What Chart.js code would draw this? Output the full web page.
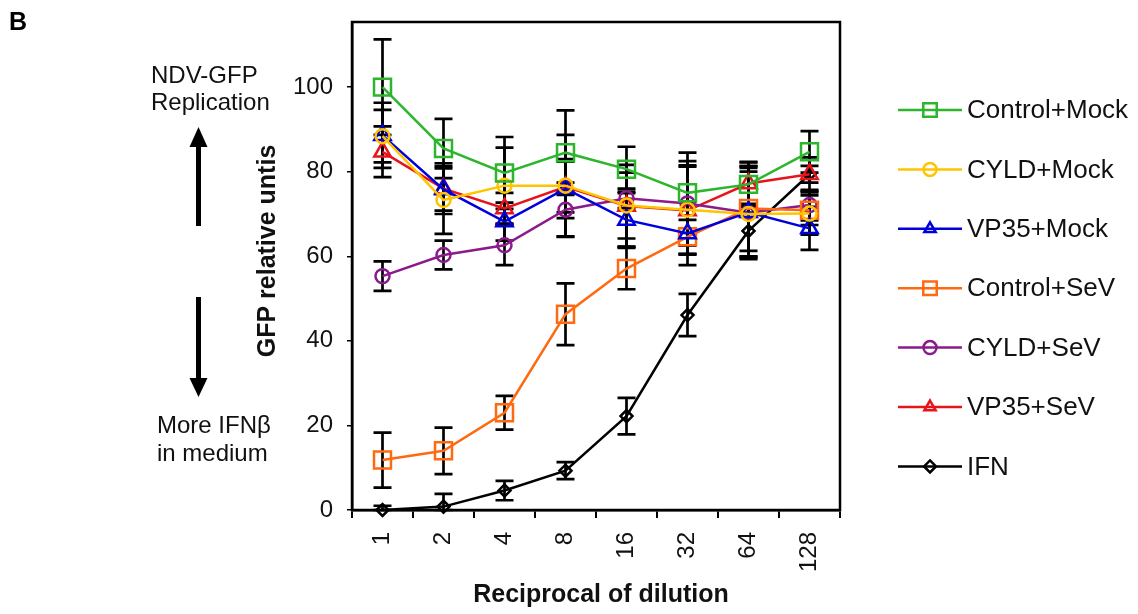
<!DOCTYPE html>
<html>
<head>
<meta charset="utf-8">
<script src="https://cdn.jsdelivr.net/npm/chart.js@4/dist/chart.umd.min.js"></script>
<style>
html,body{margin:0;padding:0;background:#fff;}
#wrap{position:relative;width:1138px;height:614px;}
canvas{display:block;}
</style>
</head>
<body>
<div id="wrap"><canvas id="c" width="1138" height="614"></canvas></div>
<script>
// ---- data ----
const categories = ['1', '2', '4', '8', '16', '32', '64', '128'];
const seriesNames = ['Control+Mock', 'CYLD+Mock', 'VP35+Mock', 'Control+SeV', 'CYLD+SeV', 'VP35+SeV', 'IFN'];
const controlMock    = [100, 85.5, 79.7, 84.5, 80.6, 75.0, 77.0, 84.7];
const controlMockErr = [11.3, 7.0, 8.5, 10.0, 5.3, 9.5, 5.3, 4.9];
const cyldMock       = [88.4, 73.3, 76.7, 76.7, 72.0, 71.0, 70.0, 70.1];
const cyldMockErr    = [6.2, 8.0, 9.0, 12.0, 7.8, 10.5, 10.0, 5.0];
const vp35Mock       = [88.6, 75.8, 68.2, 76.0, 68.6, 65.4, 70.4, 66.6];
const vp35MockErr    = [7.7, 5.0, 4.5, 7.0, 6.3, 7.5, 10.5, 5.1];
const controlSev     = [11.8, 14.0, 23.0, 46.3, 57.1, 64.6, 71.3, 70.9];
const controlSevErr  = [6.5, 5.5, 4.0, 7.3, 4.9, 4.0, 10.0, 3.5];
const cyldSev        = [55.3, 60.3, 62.6, 71.0, 73.7, 72.5, 70.3, 72.1];
const cyldSevErr     = [3.5, 3.4, 4.7, 6.4, 2.3, 10.0, 11.0, 3.6];
const vp35Sev        = [84.7, 76.0, 71.3, 76.4, 71.9, 70.8, 77.2, 79.4];
const vp35SevErr     = [6.0, 6.0, 3.7, 6.0, 9.7, 10.4, 5.0, 4.0];
const ifn            = [0.0, 0.8, 4.6, 9.3, 22.2, 46.1, 66.0, 79.4];
const ifnErr         = [1.0, 3.0, 2.3, 2.0, 4.3, 5.0, 6.4, 2.0];
const yTicks = [0, 20, 40, 60, 80, 100];
const xTitle = 'Reciprocal of dilution';
const yTitle = 'GFP relative untis';

// ---- styles ----
const FONT = "'Liberation Sans', Arial, sans-serif";
const styles = [
  {color: '#2db52d', shape: 'rect', r: 12},
  {color: '#ffc400', shape: 'circle', r: 7},
  {color: '#0000dc', shape: 'triangle', r: 9.5},
  {color: '#ff6a10', shape: 'rect', r: 12},
  {color: '#8b1a8b', shape: 'circle', r: 7},
  {color: '#e8141b', shape: 'triangle', r: 9.5},
  {color: '#000000', shape: 'rectRot', r: 6}
];
const values = [controlMock, cyldMock, vp35Mock, controlSev, cyldSev, vp35Sev, ifn];
const errors = [controlMockErr, cyldMockErr, vp35MockErr, controlSevErr, cyldSevErr, vp35SevErr, ifnErr];

const datasets = seriesNames.map((name, i) => ({
  label: name,
  data: values[i],
  errs: errors[i],
  borderColor: styles[i].color,
  backgroundColor: 'rgba(0,0,0,0)',
  borderWidth: 2.5,
  pointStyle: styles[i].shape,
  pointRadius: styles[i].r,
  pointHoverRadius: styles[i].r,
  pointBorderWidth: 2.5,
  pointBackgroundColor: 'rgba(0,0,0,0)',
  pointBorderColor: styles[i].color,
  tension: 0,
  clip: false
}));

function drawMarker(ctx, shape, x, y, r, color) {
  ctx.save();
  ctx.strokeStyle = color;
  ctx.lineWidth = 2.5;
  ctx.beginPath();
  if (shape === 'rect') {
    const s = Math.SQRT1_2 * r;
    ctx.rect(x - s, y - s, 2 * s, 2 * s);
  } else if (shape === 'circle') {
    ctx.arc(x, y, r, 0, Math.PI * 2);
  } else if (shape === 'triangle') {
    const half = r * Math.sqrt(3) / 2;
    ctx.moveTo(x, y - r);
    ctx.lineTo(x + half, y + r / 2);
    ctx.lineTo(x - half, y + r / 2);
    ctx.closePath();
  } else if (shape === 'rectRot') {
    ctx.moveTo(x, y - r); ctx.lineTo(x + r, y); ctx.lineTo(x, y + r); ctx.lineTo(x - r, y); ctx.closePath();
  }
  ctx.stroke();
  ctx.restore();
}

const errorBars = {
  id: 'errorBars',
  beforeDatasetsDraw(chart) {
    const ctx = chart.ctx, xs = chart.scales.x, ys = chart.scales.y;
    ctx.save();
    ctx.strokeStyle = '#000';
    ctx.lineWidth = 2.7;
    chart.data.datasets.forEach(ds => {
      ds.data.forEach((v, i) => {
        const e = ds.errs[i];
        const x = xs.getPixelForValue(i);
        const yt = ys.getPixelForValue(v + e);
        const yb = Math.min(ys.getPixelForValue(Math.max(v - e, 0)), chart.chartArea.bottom);
        ctx.beginPath();
        ctx.moveTo(x, yt); ctx.lineTo(x, yb);
        ctx.moveTo(x - 9, yt); ctx.lineTo(x + 9, yt);
        ctx.moveTo(x - 9, yb); ctx.lineTo(x + 9, yb);
        ctx.stroke();
      });
    });
    ctx.restore();
  }
};

const frame = {
  id: 'frame',
  afterDraw(chart) {
    const ctx = chart.ctx, a = chart.chartArea;
    ctx.save();
    ctx.strokeStyle = '#000';
    ctx.lineWidth = 2.5;
    ctx.strokeRect(a.left, a.top, a.right - a.left, a.bottom - a.top);
    // axis titles
    ctx.fillStyle = '#111';
    ctx.font = 'bold 25px ' + FONT;
    ctx.textAlign = 'center';
    ctx.textBaseline = 'middle';
    ctx.fillText(xTitle, (a.left + a.right) / 2 + 5, 595);
    ctx.translate(268, 251);
    ctx.rotate(-Math.PI / 2);
    ctx.fillText(yTitle, 0, 0);
    ctx.restore();
  }
};

const legendPlugin = {
  id: 'customLegend',
  afterDraw(chart) {
    const ctx = chart.ctx;
    ctx.save();
    chart.data.datasets.forEach((ds, i) => {
      const y = 110 + i * 59.4;
      ctx.strokeStyle = ds.borderColor;
      ctx.lineWidth = 2.5;
      ctx.beginPath(); ctx.moveTo(898, y); ctx.lineTo(962, y); ctx.stroke();
      drawMarker(ctx, ds.pointStyle, 930, y, ds.pointStyle === 'rectRot' ? 6 : (ds.pointStyle === 'rect' ? 9.5 : 6.5), ds.borderColor);
      ctx.fillStyle = '#111';
      ctx.font = '26px ' + FONT;
      ctx.textBaseline = 'middle';
      ctx.textAlign = 'left';
      ctx.fillText(ds.label, 967, y + 1);
    });
    ctx.restore();
  }
};

const annotations = {
  id: 'annotations',
  afterDraw(chart) {
    const ctx = chart.ctx;
    ctx.save();
    ctx.fillStyle = '#000';
    ctx.textBaseline = 'alphabetic';
    ctx.textAlign = 'left';
    ctx.font = 'bold 25px ' + FONT;
    ctx.fillText('B', 9, 30);
    ctx.fillStyle = '#111';
    ctx.font = '24px ' + FONT;
    ctx.fillText('NDV-GFP', 151, 83);
    ctx.fillText('Replication', 151, 110);
    ctx.fillText('More IFNβ', 157, 433);
    ctx.fillText('in medium', 157, 461);
    // arrows
    ctx.fillStyle = '#000';
    ctx.fillRect(196, 145, 5, 81);
    ctx.beginPath(); ctx.moveTo(198.5, 127); ctx.lineTo(207.5, 147); ctx.lineTo(189.5, 147); ctx.closePath(); ctx.fill();
    ctx.fillRect(196, 297, 5, 83);
    ctx.beginPath(); ctx.moveTo(198.5, 397); ctx.lineTo(207.5, 378); ctx.lineTo(189.5, 378); ctx.closePath(); ctx.fill();
    ctx.restore();
  }
};

Chart.defaults.font.family = FONT;
Chart.defaults.color = '#111';

new Chart(document.getElementById('c'), {
  type: 'line',
  data: {labels: categories, datasets},
  plugins: [errorBars, frame, legendPlugin, annotations],
  options: {
    responsive: false,
    animation: false,
    events: [],
    layout: {padding: {left: 250, right: 298, top: 22, bottom: 0}},
    plugins: {legend: {display: false}, tooltip: {enabled: false}},
    scales: {
      x: {
        type: 'category',
        offset: true,
        grid: {offset: true, drawOnChartArea: false, drawTicks: true, tickLength: 8, color: '#000', lineWidth: 2},
        border: {display: true, color: '#000', width: 2.5},
        ticks: {maxRotation: 90, minRotation: 90, padding: 14, font: {size: 24}, color: '#111'},
        title: {display: false},
        afterFit(scale) { scale.height = 104; scale.paddingLeft = 0; scale.paddingRight = 0; }
      },
      y: {
        min: 0,
        max: 115.4,
        grid: {drawOnChartArea: false, drawTicks: true, tickLength: 5, color: '#000', lineWidth: 1.5},
        border: {display: true, color: '#000', width: 2.5},
        ticks: {stepSize: 20, padding: 14, font: {size: 24}, color: '#111'},
        afterBuildTicks(scale) { scale.ticks = yTicks.map(v => ({value: v})); },
        title: {display: false},
        afterFit(scale) { scale.width = 102; scale.paddingTop = 0; scale.paddingBottom = 0; }
      }
    }
  }
});
</script>
</body>
</html>
